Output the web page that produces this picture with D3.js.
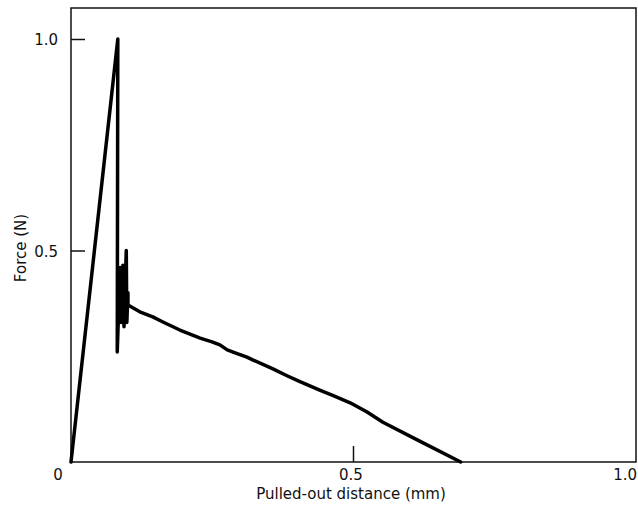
<!DOCTYPE html>
<html>
<head>
<meta charset="utf-8">
<script src="https://cdn.jsdelivr.net/npm/d3@7"></script>
<style>
  html, body { margin: 0; padding: 0; background: #fff; }
  svg { display: block; }
  text { font-family: "DejaVu Sans", "Liberation Sans", sans-serif; fill: #111; }
</style>
</head>
<body>
<div id="chart"></div>
<script>
// Pull-out test: force against pulled-out distance
const distance = [0, 0.083, 0.082, 0.087, 0.089, 0.092, 0.094, 0.098, 0.099, 0.101,
  0.101, 0.122, 0.145, 0.163, 0.193, 0.229, 0.250, 0.264, 0.277, 0.291, 0.312, 0.323,
  0.358, 0.383, 0.406, 0.441, 0.465, 0.495, 0.525, 0.553, 0.613, 0.691];
const force = [0, 1.0, 0.26, 0.46, 0.33, 0.465, 0.32, 0.50, 0.33, 0.40,
  0.371, 0.355, 0.343, 0.331, 0.312, 0.293, 0.284, 0.277, 0.265, 0.258, 0.248, 0.241,
  0.220, 0.204, 0.190, 0.170, 0.157, 0.140, 0.118, 0.094, 0.053, 0];

const xTickValues = [0, 0.5, 1.0];
const xTickLabels = ["0", "0.5", "1.0"];
const yTickValues = [0.5, 1.0];
const yTickLabels = ["0.5", "1.0"];
const xTitle = "Pulled-out distance (mm)";
const yTitle = "Force (N)";

const W = 638, H = 505;
const m = { left: 71, right: 635, top: 8, bottom: 462 };

const svg = d3.select("#chart").append("svg")
  .attr("width", W).attr("height", H);

const x = d3.scaleLinear().domain([0, 1]).range([m.left, m.right]);
const y = d3.scaleLinear().domain([0, 1]).range([m.bottom, 39]);

// frame
svg.append("rect")
  .attr("x", m.left).attr("y", m.top)
  .attr("width", m.right + 1 - m.left).attr("height", m.bottom - m.top)
  .attr("fill", "none").attr("stroke", "#111").attr("stroke-width", 1.5);

// inward ticks
const xAxis = d3.axisBottom(x).tickValues([0.5]).tickSize(-16).tickFormat("");
const gx = svg.append("g").attr("transform", `translate(0,${m.bottom})`).call(xAxis);
gx.select(".domain").remove();
gx.selectAll("line").attr("stroke", "#111").attr("stroke-width", 1.5);

const yAxis = d3.axisLeft(y).tickValues(yTickValues).tickSize(-14).tickFormat("");
const gy = svg.append("g").attr("transform", `translate(${m.left},0)`).call(yAxis);
gy.select(".domain").remove();
gy.selectAll("line").attr("stroke", "#111").attr("stroke-width", 1.5);

// tick labels: the corner "0" sits left of the origin, "1.0" ends at the frame edge
const xAnchors = ["middle", "middle", "end"];
const xOffsets = [-13, -2, 2];
svg.selectAll(".xlab").data(xTickValues).enter().append("text")
  .attr("class", "xlab")
  .attr("x", (d, i) => x(d) + xOffsets[i])
  .attr("y", 480)
  .attr("text-anchor", (d, i) => xAnchors[i])
  .attr("font-size", 15)
  .text((d, i) => xTickLabels[i]);

svg.selectAll(".ylab").data(yTickValues).enter().append("text")
  .attr("class", "ylab")
  .attr("x", 58)
  .attr("y", d => y(d) + 6)
  .attr("text-anchor", "end")
  .attr("font-size", 15)
  .text((d, i) => yTickLabels[i]);

// axis titles
svg.append("text")
  .attr("x", 351).attr("y", 499)
  .attr("text-anchor", "middle")
  .attr("font-size", 15)
  .text(xTitle);

svg.append("text")
  .attr("transform", "translate(26,248) rotate(-90)")
  .attr("text-anchor", "middle")
  .attr("font-size", 15)
  .text(yTitle);

// force curve
const pts = distance.map((d, i) => [d, force[i]]);
svg.append("path")
  .datum(pts)
  .attr("d", d3.line().x(d => x(d[0])).y(d => y(d[1])))
  .attr("fill", "none")
  .attr("stroke", "#000")
  .attr("stroke-width", 3.5)
  .attr("stroke-linejoin", "round")
  .attr("stroke-linecap", "round");
</script>
</body>
</html>
